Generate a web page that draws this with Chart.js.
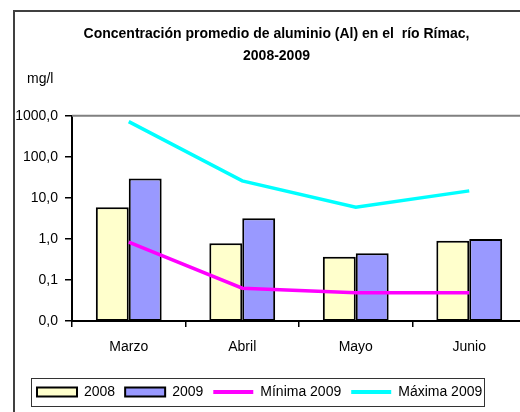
<!DOCTYPE html>
<html>
<head>
<meta charset="utf-8">
<script src="https://cdn.jsdelivr.net/npm/chart.js@4/dist/chart.umd.min.js"></script>
<style>
  html, body { margin: 0; padding: 0; background: #fff; width: 520px; height: 412px; overflow: hidden; }
  #frame { position: absolute; left: 13px; top: 10px; width: 560px; height: 420px; border: 2px solid #404040; }
  #chart { position: absolute; left: 0; top: 0; }
</style>
</head>
<body>
<div id="frame"><canvas id="chart" width="526" height="400"></canvas></div>
<script>
const months = ['Marzo', 'Abril', 'Mayo', 'Junio'];
const prom2008 = [5.9, 0.78, 0.37, 0.9];
const prom2009 = [29.5, 3.2, 0.45, 1.0];
const minima2009 = [0.83, 0.063, 0.049, 0.049];
const maxima2009 = [720, 26, 5.9, 14.8];
const yTickValues = [0.01, 0.1, 1, 10, 100, 1000];
const yTickLabels = ['0,0', '0,1', '1,0', '10,0', '100,0', '1000,0'];

Chart.defaults.font.family = '"Liberation Sans", Arial, sans-serif';
Chart.defaults.font.size = 14;
Chart.defaults.color = '#000';

// plot border (top/right) and legend box; y labels may spill into the left padding
const frameLines = {
  id: 'frameLines',
  afterLayout(chart) {
    chart.scales.y.left -= 12;
  },
  beforeDatasetsDraw(chart) {
    const { ctx, chartArea: a } = chart;
    ctx.save();
    ctx.strokeStyle = '#808080';
    ctx.lineWidth = 2;
    ctx.beginPath();
    ctx.moveTo(a.left, a.top);
    ctx.lineTo(a.right, a.top);
    ctx.lineTo(a.right, a.bottom);
    ctx.stroke();
    ctx.restore();
  },
  afterDraw(chart) {
    const boxes = chart.legend.legendHitBoxes;
    if (!boxes || !boxes.length) return;
    const first = boxes[0], last = boxes[boxes.length - 1];
    const cy = first.top + first.height / 2;
    const x0 = Math.round(first.left - 6) + 0.5;
    const x1 = Math.round(last.left + last.width + 2) + 0.5;
    const ctx = chart.ctx;
    ctx.save();
    ctx.strokeStyle = '#333';
    ctx.lineWidth = 1;
    ctx.strokeRect(x0, Math.round(cy - 14) + 0.5, x1 - x0, 28);
    ctx.restore();
  }
};

new Chart(document.getElementById('chart'), {
  type: 'bar',
  data: {
    labels: months,
    datasets: [
      { label: '2008', data: prom2008, backgroundColor: '#FFFFCC', borderColor: '#000', borderWidth: 2,
        borderSkipped: false, order: 1, categoryPercentage: 0.58, barPercentage: 1 },
      { label: '2009', data: prom2009, backgroundColor: '#9999FF', borderColor: '#000', borderWidth: 2,
        borderSkipped: false, order: 1, categoryPercentage: 0.58, barPercentage: 1 },
      { type: 'line', label: 'Mínima 2009', data: minima2009, borderColor: '#FF00FF', backgroundColor: '#FF00FF',
        borderWidth: 3.5, pointRadius: 0, tension: 0, order: 0 },
      { type: 'line', label: 'Máxima 2009', data: maxima2009, borderColor: '#00FFFF', backgroundColor: '#00FFFF',
        borderWidth: 3.5, pointRadius: 0, tension: 0, order: 0 }
    ]
  },
  options: {
    responsive: false,
    animation: false,
    events: [],
    layout: { padding: { left: 12, right: 15, top: 0, bottom: 3 } },
    scales: {
      x: {
        grid: { offset: true, drawOnChartArea: false, drawTicks: true, tickLength: 6, color: '#000', lineWidth: 1.5 },
        border: { color: '#000', width: 2 },
        ticks: { padding: 12, maxRotation: 0 },
        afterFit: (s) => { s.height = 54; }
      },
      y: {
        type: 'logarithmic',
        min: 0.01,
        max: 1000,
        grid: { drawOnChartArea: false, drawTicks: true, tickLength: 7, color: '#000', lineWidth: 1.5 },
        border: { color: '#000', width: 2 },
        afterBuildTicks: (s) => { s.ticks = yTickValues.map(v => ({ value: v })); },
        ticks: { padding: 7, callback: (v, i) => yTickLabels[i] },
        afterFit: (s) => { s.width = 45; }
      }
    },
    plugins: {
      title: {
        display: true,
        text: ['Concentración promedio de aluminio (Al) en el  río Rímac,', '2008-2009'],
        font: { size: 14, weight: 'bold', lineHeight: '22px' },
        padding: { top: 11, bottom: 0 },
        color: '#000'
      },
      subtitle: {
        display: true,
        text: 'mg/l',
        align: 'start',
        font: { size: 14 },
        padding: { top: 4, bottom: 28 },
        color: '#000'
      },
      legend: {
        position: 'bottom',
        align: 'start',
        labels: {
          usePointStyle: true,
          pointStyleWidth: 40,
          boxHeight: 9,
          padding: 10,
          color: '#000',
          font: { size: 14 },
          generateLabels: (chart) => chart.data.datasets.map((ds, i) => ({
            text: ds.label,
            fillStyle: ds.backgroundColor,
            strokeStyle: ds.borderColor,
            lineWidth: ds.type === 'line' ? 4 : 2,
            pointStyle: ds.type === 'line' ? 'line' : 'rect',
            hidden: false,
            datasetIndex: i
          }))
        }
      },
      tooltip: { enabled: false }
    }
  },
  plugins: [frameLines]
});
</script>
</body>
</html>
